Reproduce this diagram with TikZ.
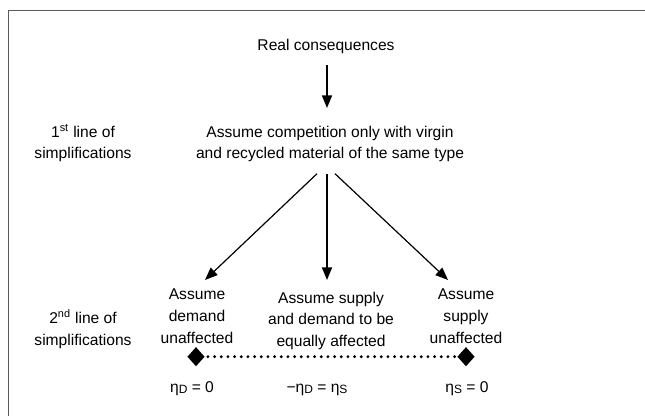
\documentclass[tikz,border=0pt]{standalone}
\usepackage{fontspec}
\setmainfont{Liberation Sans}
\usepackage{tikz}
\usetikzlibrary{arrows.meta, shapes.geometric}
\usetikzlibrary{calc}

\begin{document}
\begin{tikzpicture}[x=0.75pt, y=-0.75pt,
    every node/.style={inner sep=0pt, font=\fontsize{11.7}{16.3}\selectfont},
    txt/.style={align=center},
    arr/.style={line width=1.4pt, -{Triangle[length=9.5pt, width=7.5pt]}},
    darr/.style={line width=0.9pt, -{Triangle[length=9.5pt, width=7.5pt]}},
    endmark/.style={diamond, fill=black, minimum width=13pt, minimum height=14.5pt},
    dotline/.style={line width=2.4pt, line cap=round, dash pattern=on 0pt off 5pt}]
    \useasboundingbox (0, 0) rectangle (645, 416);
\draw[line width=1.1pt, black!65] (8.5, 416) |- (645, 10.5);
\node[anchor=base] (real) at (326, 50.7) {Real consequences};
\node[txt, anchor=north] (first) at (330, 125.5) {Assume competition only with virgin\\and recycled material of the same type};
\node[txt, anchor=north] (lineA) at (83, 125.5) {1\smash{\textsuperscript{st}} line of\\simplifications};
\node[txt, anchor=north] (dem) at (197, 289) {Assume\\demand\\unaffected};
\node[txt, anchor=north] (both) at (331, 291.5) {Assume supply\\and demand to be\\equally affected};
\node[txt, anchor=north] (sup) at (466, 289) {Assume\\supply\\unaffected};
\node[txt, anchor=north] (lineB) at (83, 312) {2\smash{\textsuperscript{nd}} line of\\simplifications};
\draw[arr] ($(real.south)+(1, 11)$) -- ($(first.north)+(-3, -17.5)$);
\draw[darr] ($(first.south)+(-13, 11.4)$) -- ($(dem.north)+(8, -9)$);
\draw[arr] ($(first.south)+(-3, 11.4)$) -- ($(both.north)+(-4, -11.5)$);
\draw[darr] ($(first.south)+(5, 11.4)$) -- ($(sup.north)+(-18, -9)$);
    \node[endmark] (left) at (196, 356.7) {};
    \node[endmark] (right) at (466, 356.7) {};
    \draw[dotline] ($(left.east)+(3, 0)$) -- (right.west);
\node[anchor=base] (etaD) at (192, 392.7) {η\raisebox{-0.5pt}{\fontsize{9}{9}\selectfont D} = 0};
\node[anchor=base] (eq) at (317, 392.7) {−η\raisebox{-0.5pt}{\fontsize{9}{9}\selectfont D} = η\raisebox{-0.5pt}{\fontsize{9}{9}\selectfont S}};
\node[anchor=base] (etaS) at (467, 392.7) {η\raisebox{-0.5pt}{\fontsize{9}{9}\selectfont S} = 0};
    \end{tikzpicture}
\end{document}
